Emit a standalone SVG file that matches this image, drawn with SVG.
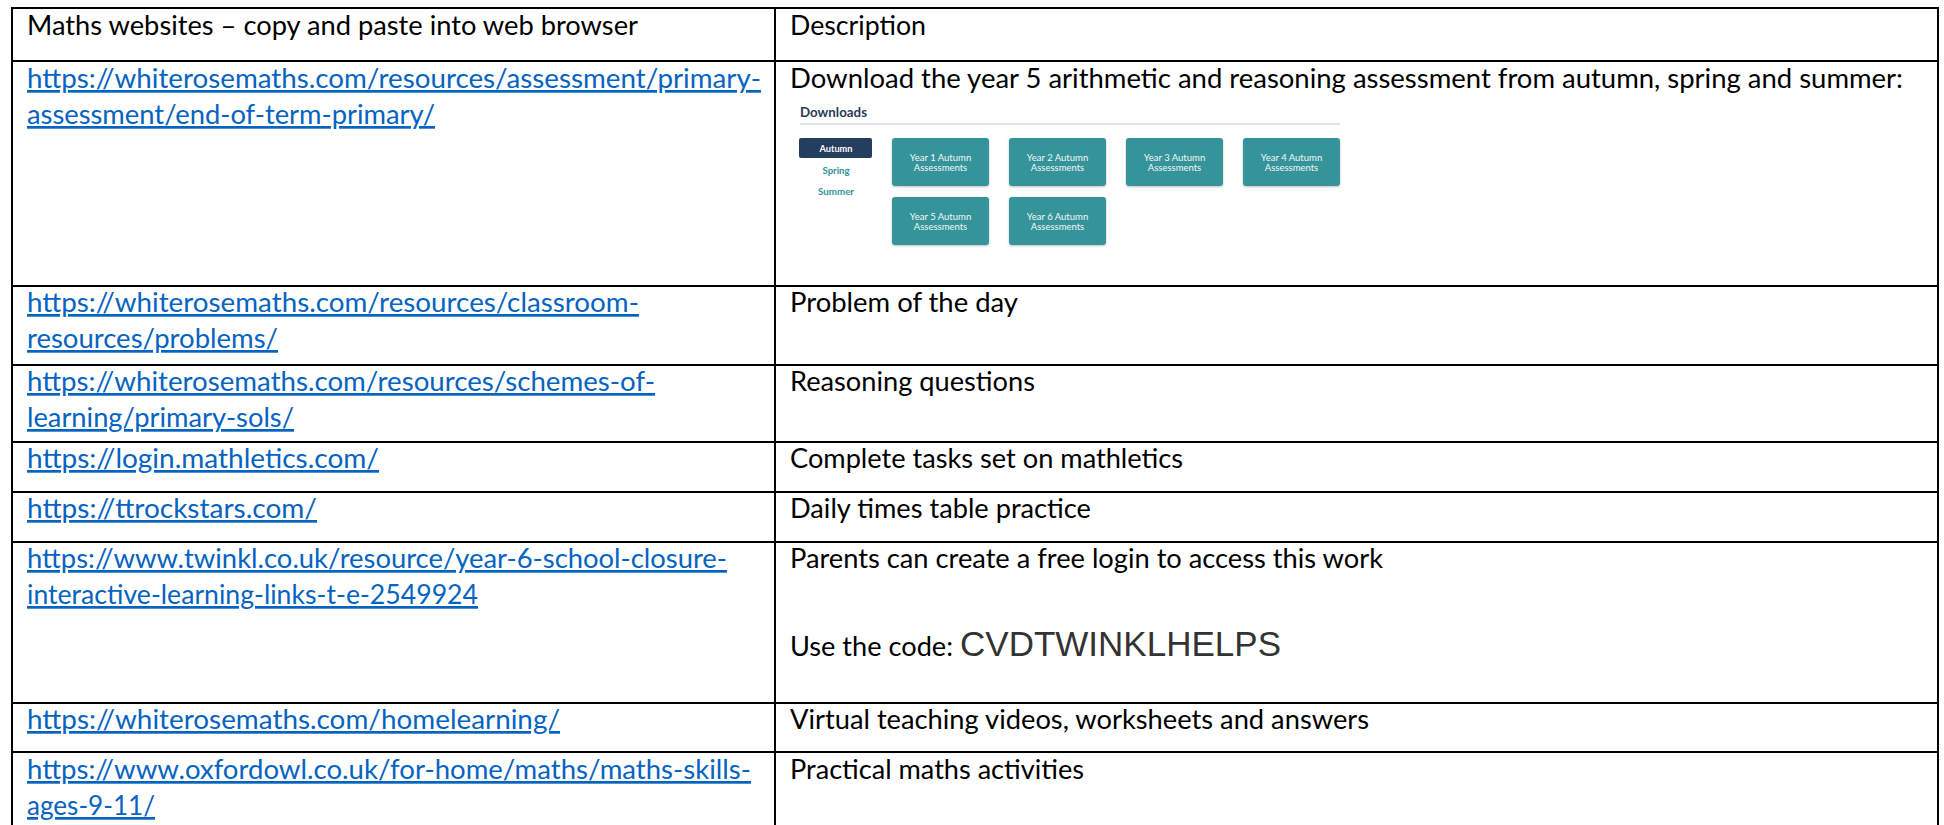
<svg xmlns="http://www.w3.org/2000/svg" width="1944" height="825" viewBox="0 0 1944 825">
<style>
  .t { font-family: Lato, "Liberation Sans", sans-serif; font-size: 27px; fill: #000; }
  .lk { font-family: Lato, "Liberation Sans", sans-serif; font-size: 27px; fill: #0563C1; text-decoration: underline; }
  .code { font-family: "Liberation Sans", Arial, sans-serif; font-size: 35px; fill: #333333; }
  .grid line { stroke: #000; stroke-width: 2; }
  .btn { fill: #34949a; }
  .btxt { font-family: Lato, "Liberation Sans", sans-serif; font-size: 9.5px; fill: #f2f7f7; text-anchor: middle; }
  .tab { font-family: Lato, "Liberation Sans", sans-serif; font-size: 10px; font-weight: bold; text-anchor: middle; }
</style>
<defs>
  <filter id="sh" x="-10%" y="-10%" width="120%" height="130%">
    <feDropShadow dx="0" dy="1" stdDeviation="1" flood-color="#000" flood-opacity="0.25"/>
  </filter>
</defs>
<rect x="0" y="0" width="1944" height="825" fill="#fff"/>

<g id="grid" class="grid">
  <line x1="12" y1="8" x2="1938" y2="8"/>
  <line x1="12" y1="7" x2="12" y2="825"/>
  <line x1="775" y1="7" x2="775" y2="825"/>
  <line x1="1938" y1="7" x2="1938" y2="825"/>
  <line x1="12" y1="61" x2="1938" y2="61"/>
  <line x1="12" y1="286" x2="1938" y2="286"/>
  <line x1="12" y1="365" x2="1938" y2="365"/>
  <line x1="12" y1="442" x2="1938" y2="442"/>
  <line x1="12" y1="492" x2="1938" y2="492"/>
  <line x1="12" y1="542" x2="1938" y2="542"/>
  <line x1="12" y1="703" x2="1938" y2="703"/>
  <line x1="12" y1="752" x2="1938" y2="752"/>
</g>

<g id="row-header">
  <text class="t" x="27" y="35" textLength="611" lengthAdjust="spacingAndGlyphs">Maths websites – copy and paste into web browser</text>
  <text class="t" x="790" y="35" textLength="136" lengthAdjust="spacingAndGlyphs">Description</text>
</g>

<g id="row-assessment">
  <text class="lk" x="27" y="88" textLength="734" lengthAdjust="spacingAndGlyphs">https://whiterosemaths.com/resources/assessment/primary-</text>
  <text class="lk" x="27" y="124" textLength="408" lengthAdjust="spacingAndGlyphs">assessment/end-of-term-primary/</text>
  <text class="t" x="790" y="88" textLength="1113" lengthAdjust="spacingAndGlyphs">Download the year 5 arithmetic and reasoning assessment from autumn, spring and summer:</text>
  <g id="downloads-screenshot">
    <text x="800" y="117" font-family="Lato, 'Liberation Sans', sans-serif" font-size="14" font-weight="bold" fill="#2b3a55" textLength="67" lengthAdjust="spacingAndGlyphs">Downloads</text>
    <line x1="800" y1="124" x2="1340" y2="124" stroke="#e3e3ea" stroke-width="2"/>
    <rect x="799" y="138" width="73" height="20" rx="2" fill="#253d5e"/>
    <text class="tab" x="836" y="152" fill="#fff" textLength="33" lengthAdjust="spacingAndGlyphs">Autumn</text>
    <text class="tab" x="836" y="174" fill="#2e9496" textLength="27" lengthAdjust="spacingAndGlyphs">Spring</text>
    <text class="tab" x="836" y="195" fill="#2e9496" textLength="36" lengthAdjust="spacingAndGlyphs">Summer</text>
    <g filter="url(#sh)">
      <rect class="btn" x="892" y="138" width="97" height="48" rx="3"/>
      <rect class="btn" x="1009" y="138" width="97" height="48" rx="3"/>
      <rect class="btn" x="1126" y="138" width="97" height="48" rx="3"/>
      <rect class="btn" x="1243" y="138" width="97" height="48" rx="3"/>
      <rect class="btn" x="892" y="197" width="97" height="48" rx="3"/>
      <rect class="btn" x="1009" y="197" width="97" height="48" rx="3"/>
    </g>
    <text class="btxt" x="940.5" y="161">Year 1 Autumn</text>
    <text class="btxt" x="940.5" y="171">Assessments</text>
    <text class="btxt" x="1057.5" y="161">Year 2 Autumn</text>
    <text class="btxt" x="1057.5" y="171">Assessments</text>
    <text class="btxt" x="1174.5" y="161">Year 3 Autumn</text>
    <text class="btxt" x="1174.5" y="171">Assessments</text>
    <text class="btxt" x="1291.5" y="161">Year 4 Autumn</text>
    <text class="btxt" x="1291.5" y="171">Assessments</text>
    <text class="btxt" x="940.5" y="220">Year 5 Autumn</text>
    <text class="btxt" x="940.5" y="230">Assessments</text>
    <text class="btxt" x="1057.5" y="220">Year 6 Autumn</text>
    <text class="btxt" x="1057.5" y="230">Assessments</text>
  </g>
</g>

<g id="row-problems">
  <text class="lk" x="27" y="312" textLength="612" lengthAdjust="spacingAndGlyphs">https://whiterosemaths.com/resources/classroom-</text>
  <text class="lk" x="27" y="348" textLength="251" lengthAdjust="spacingAndGlyphs">resources/problems/</text>
  <text class="t" x="790" y="312" textLength="228" lengthAdjust="spacingAndGlyphs">Problem of the day</text>
</g>

<g id="row-schemes">
  <text class="lk" x="27" y="391" textLength="628" lengthAdjust="spacingAndGlyphs">https://whiterosemaths.com/resources/schemes-of-</text>
  <text class="lk" x="27" y="427" textLength="267" lengthAdjust="spacingAndGlyphs">learning/primary-sols/</text>
  <text class="t" x="790" y="391" textLength="245" lengthAdjust="spacingAndGlyphs">Reasoning questions</text>
</g>

<g id="row-mathletics">
  <text class="lk" x="27" y="468" textLength="352" lengthAdjust="spacingAndGlyphs">https://login.mathletics.com/</text>
  <text class="t" x="790" y="468" textLength="393" lengthAdjust="spacingAndGlyphs">Complete tasks set on mathletics</text>
</g>

<g id="row-ttrockstars">
  <text class="lk" x="27" y="518" textLength="290" lengthAdjust="spacingAndGlyphs">https://ttrockstars.com/</text>
  <text class="t" x="790" y="518" textLength="301" lengthAdjust="spacingAndGlyphs">Daily times table practice</text>
</g>

<g id="row-twinkl">
  <text class="lk" x="27" y="568" textLength="700" lengthAdjust="spacingAndGlyphs">https://www.twinkl.co.uk/resource/year-6-school-closure-</text>
  <text class="lk" x="27" y="604" textLength="451" lengthAdjust="spacingAndGlyphs">interactive-learning-links-t-e-2549924</text>
  <text class="t" x="790" y="568" textLength="593" lengthAdjust="spacingAndGlyphs">Parents can create a free login to access this work</text>
  <text class="t" x="790" y="656" textLength="163" lengthAdjust="spacingAndGlyphs">Use the code:</text>
  <text class="code" x="960" y="656" textLength="321" lengthAdjust="spacingAndGlyphs">CVDTWINKLHELPS</text>
</g>

<g id="row-homelearning">
  <text class="lk" x="27" y="729" textLength="533" lengthAdjust="spacingAndGlyphs">https://whiterosemaths.com/homelearning/</text>
  <text class="t" x="790" y="729" textLength="579" lengthAdjust="spacingAndGlyphs">Virtual teaching videos, worksheets and answers</text>
</g>

<g id="row-oxfordowl">
  <text class="lk" x="27" y="779" textLength="724" lengthAdjust="spacingAndGlyphs">https://www.oxfordowl.co.uk/for-home/maths/maths-skills-</text>
  <text class="lk" x="27" y="815" textLength="128" lengthAdjust="spacingAndGlyphs">ages-9-11/</text>
  <text class="t" x="790" y="779" textLength="294" lengthAdjust="spacingAndGlyphs">Practical maths activities</text>
</g>
</svg>
